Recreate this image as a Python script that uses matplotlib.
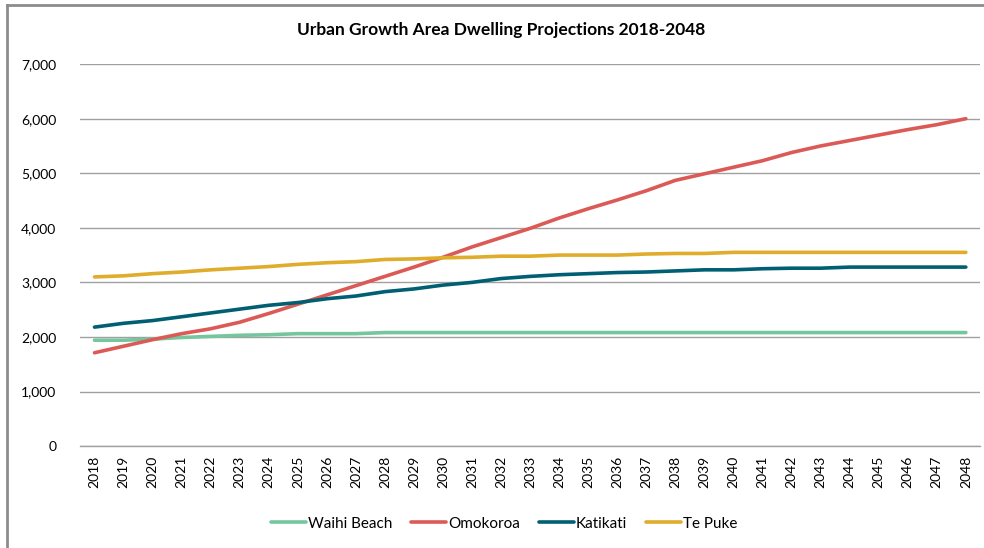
import matplotlib
matplotlib.use("Agg")
import matplotlib.pyplot as plt
from matplotlib.lines import Line2D
from matplotlib.ticker import FuncFormatter

years = list(range(2018, 2049))

waihi_beach = [1940, 1940, 1960, 1990, 2010, 2030, 2040, 2060, 2060, 2060,
               2080, 2080, 2080, 2080, 2080, 2080, 2080, 2080, 2080, 2080,
               2080, 2080, 2080, 2080, 2080, 2080, 2080, 2080, 2080, 2080, 2080]
omokoroa = [1710, 1830, 1950, 2060, 2150, 2270, 2430, 2600, 2770, 2940,
            3110, 3280, 3460, 3650, 3820, 3990, 4180, 4350, 4510, 4680,
            4870, 4990, 5110, 5230, 5380, 5500, 5600, 5700, 5800, 5890, 6000]
katikati = [2180, 2250, 2300, 2370, 2440, 2510, 2580, 2630, 2700, 2750,
            2830, 2880, 2950, 3000, 3070, 3110, 3140, 3160, 3180, 3190,
            3210, 3230, 3230, 3250, 3260, 3260, 3280, 3280, 3280, 3280, 3280]
te_puke = [3100, 3120, 3160, 3190, 3230, 3260, 3290, 3330, 3360, 3380,
           3420, 3430, 3450, 3460, 3480, 3480, 3500, 3500, 3500, 3520,
           3530, 3530, 3550, 3550, 3550, 3550, 3550, 3550, 3550, 3550, 3550]

series = [
    ("Waihi Beach", waihi_beach, "#74C69D"),
    ("Omokoroa", omokoroa, "#DC5A55"),
    ("Katikati", katikati, "#005F73"),
    ("Te Puke", te_puke, "#E0AC2B"),
]

plt.rcParams["font.family"] = ["Lato", "DejaVu Sans"]

fig = plt.figure(figsize=(9.84, 5.48), dpi=100)
ax = fig.add_axes([0.0813, 0.186, 0.915, 0.697])

x = list(range(len(years)))
for name, vals, color in series:
    ax.plot(x, vals, color=color, linewidth=2.6, solid_capstyle="round", label=name)

ax.set_xlim(-0.5, len(years) - 0.5)
ax.set_ylim(0, 7000)
ax.set_yticks(range(0, 7001, 1000))
ax.yaxis.set_major_formatter(FuncFormatter(lambda v, p: f"{int(v):,}"))
ax.set_xticks(x)
ax.set_xticklabels([str(y) for y in years], rotation=90, fontsize=10)
ax.tick_params(axis="y", length=0, pad=17, labelsize=10)
ax.tick_params(axis="x", length=0, pad=7)

ax.grid(axis="y", color="#A0A0A0", linewidth=1)
ax.set_axisbelow(True)
for side in ["top", "right", "left"]:
    ax.spines[side].set_visible(False)
ax.spines["bottom"].set_color("#A0A0A0")
ax.spines["bottom"].set_linewidth(1)

fig.text(0.509, 0.945, "Urban Growth Area Dwelling Projections 2018-2048",
         ha="center", va="center", fontsize=12.5, fontweight="bold")

ax.legend(loc="center", bbox_to_anchor=(0.471, -0.203), ncol=4, frameon=False,
          fontsize=11, handlelength=2.3, handletextpad=0.15, columnspacing=1.2,
          bbox_transform=ax.transAxes)

# outer frame on left and top edges
fig.add_artist(Line2D([0.007, 0.007], [0, 0.991], transform=fig.transFigure,
                      color="#8C8C8C", linewidth=2))
fig.add_artist(Line2D([0.007, 1.0], [0.991, 0.991], transform=fig.transFigure,
                      color="#8C8C8C", linewidth=2))

fig.savefig("out.png", dpi=100)
